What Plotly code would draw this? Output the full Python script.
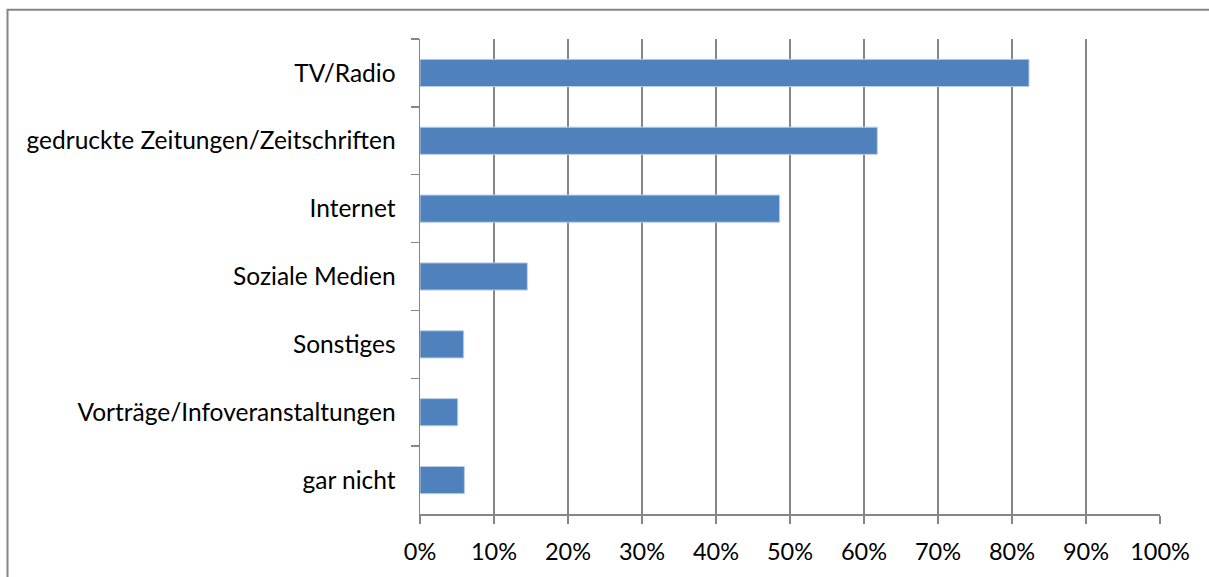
import plotly.graph_objects as go

categories = ["TV/Radio", "gedruckte Zeitungen/Zeitschriften", "Internet", "Soziale Medien",
              "Sonstiges", "Vorträge/Infoveranstaltungen", "gar nicht"]
values = [0.823, 0.618, 0.486, 0.145, 0.059, 0.051, 0.060]
x_ticks = [i / 10 for i in range(11)]
x_labels = [f"{i*10}%" for i in range(11)]

W, H = 1209, 577
L, R, T, B = 420, 1160, 39, 518

fig = go.Figure(go.Bar(
    x=values, y=categories, orientation="h",
    marker=dict(color="#4F81BD", line=dict(color="#B9CDE5", width=1)),
    width=0.4, hoverinfo="skip",
))

gray = "#868686"
fig.update_layout(
    width=W, height=H,
    margin=dict(l=L, r=W - R, t=T, b=H - B, pad=0),
    paper_bgcolor="white", plot_bgcolor="white",
    font=dict(family="Lato, Carlito, Calibri, sans-serif", size=24, color="black"),
    showlegend=False,
    bargap=0.6,
    xaxis=dict(
        range=[0, 1], tickvals=x_ticks, ticktext=x_labels,
        showgrid=True, gridcolor=gray, gridwidth=1.5,
        showline=True, linecolor=gray, linewidth=1.5,
        ticks="outside", ticklen=8, tickcolor=gray, tickwidth=1.5,
        zeroline=False, ticklabelstandoff=8,
        tickfont=dict(size=23.5),
    ),
    yaxis=dict(
        categoryorder="array", categoryarray=categories, autorange="reversed",
        showgrid=False, showline=True, linecolor=gray, linewidth=1.5,
        ticks="outside", ticklen=8, tickcolor=gray, tickwidth=1.5,
        tickson="boundaries", ticklabelstandoff=18,
        tickfont=dict(size=24.5),
    ),
    shapes=[dict(
        type="rect", xref="paper", yref="paper",
        x0=(7.5 - L) / (R - L), x1=(1260 - L) / (R - L),
        y0=(B - 620) / (B - T), y1=(B - 9.5) / (B - T),
        line=dict(color=gray, width=2), fillcolor="rgba(0,0,0,0)", layer="below",
    )],
)

fig.write_html("out.html", config={"displayModeBar": False, "staticPlot": True},
               post_script="document.body.style.margin='0';document.body.style.overflow='hidden';")
